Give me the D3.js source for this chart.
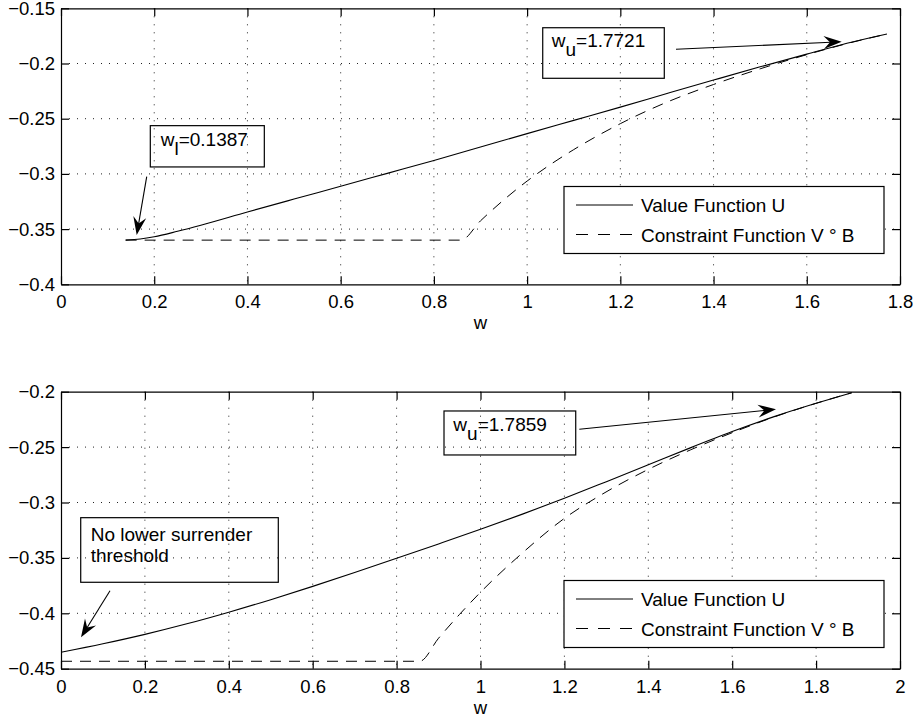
<!DOCTYPE html>
<html>
<head>
<meta charset="utf-8">
<script src="https://cdn.jsdelivr.net/npm/d3@7"></script>
<style>
  body { margin: 0; background: #fff; }
  svg text { font-family: "Liberation Sans", Arial, Helvetica, sans-serif; }
</style>
</head>
<body>
<div id="chart"></div>
<script>
// values

// top panel
let topXTicks = [0, 0.2, 0.4, 0.6, 0.8, 1, 1.2, 1.4, 1.6, 1.8];
let topYTicks = [-0.4, -0.35, -0.3, -0.25, -0.2, -0.15];
let topUW = [0.1387, 0.17, 0.2, 0.25, 0.3, 0.4, 0.5, 0.6, 0.7, 0.8, 0.9, 1.0, 1.1, 1.2, 1.3, 1.4, 1.5, 1.6, 1.7, 1.7721];
let topU = [-0.3600, -0.3590, -0.3570, -0.3520, -0.3465, -0.3345, -0.3228, -0.3112, -0.2995, -0.2878, -0.2757, -0.2635, -0.2515, -0.2395, -0.2272, -0.2150, -0.2030, -0.1915, -0.1803, -0.1733];
let topConW = [0.1387, 0.858, 0.9, 0.95, 1.0, 1.05, 1.1, 1.2, 1.3, 1.4, 1.5, 1.6, 1.7, 1.7721];
let topCon = [-0.3600, -0.3600, -0.3425, -0.3235, -0.3065, -0.2915, -0.2780, -0.2545, -0.2350, -0.2190, -0.2048, -0.1920, -0.1805, -0.1733];

// bottom panel
let botXTicks = [0, 0.2, 0.4, 0.6, 0.8, 1, 1.2, 1.4, 1.6, 1.8, 2];
let botYTicks = [-0.45, -0.4, -0.35, -0.3, -0.25, -0.2];
let botUW = [0, 0.1, 0.2, 0.3, 0.4, 0.5, 0.6, 0.7, 0.8, 0.9, 1.0, 1.1, 1.2, 1.3, 1.4, 1.5, 1.6, 1.7, 1.8, 1.885];
let botU = [-0.4352, -0.4275, -0.4190, -0.4095, -0.3990, -0.3877, -0.3757, -0.3632, -0.3504, -0.3374, -0.3242, -0.3105, -0.2962, -0.2812, -0.2660, -0.2507, -0.2360, -0.2225, -0.2105, -0.2009];
let botConW = [0, 0.5, 0.855, 0.9, 0.95, 1.0, 1.1, 1.2, 1.28, 1.4, 1.5, 1.6, 1.7, 1.8, 1.885];
let botCon = [-0.4433, -0.4433, -0.4433, -0.4225, -0.4010, -0.3810, -0.3455, -0.3143, -0.2948, -0.2701, -0.2526, -0.2370, -0.2228, -0.2105, -0.2009];

let legendLabels = ["Value Function U", "Constraint Function V \u00B0 B"];
let xTitle = "w";

let svgWidth = 913;
let svgHeight = 719;
let fontSize = 18.5;
let dash = "11,8";

var svg = d3.select("#chart")
    .append("svg")
    .attr("width", svgWidth)
    .attr("height", svgHeight);

// minus sign like the original
var fmt = d => (d < 0 ? "\u2212" : "") + String(Math.abs(d));

function drawPanel(p) {
    var x = d3.scaleLinear().domain(p.xDomain).range([61, 900]);
    var y = d3.scaleLinear().domain(p.yDomain).range([p.bottom, p.top]);

    var g = svg.append("g");

    // dotted grid
    g.selectAll(".gx").data(p.xTicks.slice(1, -1)).enter().append("line")
        .attr("x1", d => x(d)).attr("x2", d => x(d))
        .attr("y1", p.top).attr("y2", p.bottom)
        .attr("stroke", "#222").attr("stroke-width", 1)
        .attr("stroke-dasharray", "1,7");
    g.selectAll(".gy").data(p.yTicks.slice(1, -1)).enter().append("line")
        .attr("y1", d => y(d)).attr("y2", d => y(d))
        .attr("x1", 61).attr("x2", 900)
        .attr("stroke", "#222").attr("stroke-width", 1)
        .attr("stroke-dasharray", "1,7");

    // curves
    var line = d3.line()
        .x(d => x(d[0]))
        .y(d => y(d[1]))
        .curve(d3.curveMonotoneX);

    g.append("path")
        .datum(d3.zip(p.conW, p.con))
        .attr("d", line)
        .attr("fill", "none")
        .attr("stroke", "#000")
        .attr("stroke-width", 1)
        .attr("stroke-dasharray", dash);

    g.append("path")
        .datum(d3.zip(p.uW, p.u))
        .attr("d", line)
        .attr("fill", "none")
        .attr("stroke", "#000")
        .attr("stroke-width", 1.1);

    // axes, ticks pointing inward on all four sides
    var bottomAxis = d3.axisBottom(x).tickValues(p.xTicks).tickFormat(fmt)
        .tickSizeInner(-8).tickSizeOuter(0).tickPadding(11);
    var leftAxis = d3.axisLeft(y).tickValues(p.yTicks).tickFormat(fmt)
        .tickSizeInner(-8).tickSizeOuter(0).tickPadding(6);
    var topAxis = d3.axisTop(x).tickValues(p.xTicks).tickFormat("")
        .tickSizeInner(-8).tickSizeOuter(0);
    var rightAxis = d3.axisRight(y).tickValues(p.yTicks).tickFormat("")
        .tickSizeInner(-8).tickSizeOuter(0);

    var axes = [
        g.append("g").attr("transform", `translate(0, ${p.bottom})`).call(bottomAxis),
        g.append("g").attr("transform", "translate(61, 0)").call(leftAxis),
        g.append("g").attr("transform", `translate(0, ${p.top})`).call(topAxis),
        g.append("g").attr("transform", "translate(900, 0)").call(rightAxis)
    ];
    axes.forEach(a => {
        a.selectAll("path, line").attr("stroke", "#000").attr("stroke-width", 1.2);
        a.selectAll("text").attr("fill", "#000").attr("font-size", fontSize + "px");
    });

    // x axis title
    g.append("text")
        .attr("x", (61 + 900) / 2)
        .attr("y", p.bottom + 45)
        .attr("text-anchor", "middle")
        .attr("font-size", fontSize + "px")
        .text(xTitle);

    // legend
    var lg = g.append("g").attr("transform", `translate(${p.legend[0]}, ${p.legend[1]})`);
    lg.append("rect")
        .attr("width", 320).attr("height", 67)
        .attr("fill", "#fff").attr("stroke", "#000").attr("stroke-width", 1.2);
    legendLabels.forEach((lab, i) => {
        var ly = 18.5 + i * 29.5;
        lg.append("line")
            .attr("x1", 12).attr("x2", 69)
            .attr("y1", ly).attr("y2", ly)
            .attr("stroke", "#000").attr("stroke-width", 1)
            .attr("stroke-dasharray", i === 1 ? "12,10" : null);
        lg.append("text")
            .attr("x", 77).attr("y", ly + 7)
            .attr("font-size", "19px")
            .text(lab);
    });

    // annotations (data coordinates)
    p.notes.forEach(n => {
        g.append("rect")
            .attr("x", x(n.box[0])).attr("y", y(n.box[3]))
            .attr("width", x(n.box[1]) - x(n.box[0]))
            .attr("height", y(n.box[2]) - y(n.box[3]))
            .attr("fill", "none").attr("stroke", "#000").attr("stroke-width", 1.2);

        n.lines.forEach((ln, i) => {
            var t = g.append("text")
                .attr("x", x(n.text[0]))
                .attr("y", y(n.text[1]) + i * 21)
                .attr("font-size", "19px");
            if (ln.sub) {
                t.append("tspan").text(ln.base);
                t.append("tspan").attr("dy", 9).text(ln.sub);
                t.append("tspan").attr("dy", -9).text(ln.rest);
            } else {
                t.text(ln.base);
            }
        });

        var x1 = x(n.arrow[0]), y1 = y(n.arrow[1]);
        var x2 = x(n.arrow[2]), y2 = y(n.arrow[3]);
        var ang = Math.atan2(y2 - y1, x2 - x1);
        var L = 18, W = 6.5;
        g.append("line")
            .attr("x1", x1).attr("y1", y1)
            .attr("x2", x2 - Math.cos(ang) * L * 0.6)
            .attr("y2", y2 - Math.sin(ang) * L * 0.6)
            .attr("stroke", "#000").attr("stroke-width", 1.1);
        var head = [[0, 0], [-L, -W], [-L * 0.65, 0], [-L, W]];
        g.append("path")
            .attr("d", "M" + head.map(q => q.join(",")).join("L") + "Z")
            .attr("transform", `translate(${x2}, ${y2}) rotate(${ang * 180 / Math.PI})`)
            .attr("fill", "#000");
    });
}

drawPanel({
    xDomain: [0, 1.8], yDomain: [-0.4, -0.15],
    top: 8.3, bottom: 284.3,
    xTicks: topXTicks, yTicks: topYTicks,
    uW: topUW, u: topU, conW: topConW, con: topCon,
    legend: [564, 186.5],
    notes: [
        { box: [0.1916, 0.4362, -0.2937, -0.2563], text: [0.2139, -0.2747],
          lines: [{ base: "w", sub: "l", rest: "=0.1387" }],
          arrow: [0.1839, -0.3025, 0.1624, -0.3553] },
        { box: [1.0335, 1.2943, -0.2134, -0.1676], text: [1.0528, -0.1848],
          lines: [{ base: "w", sub: "u", rest: "=1.7721" }],
          arrow: [1.3194, -0.1871, 1.6749, -0.1803] }
    ]
});

drawPanel({
    xDomain: [0, 2], yDomain: [-0.45, -0.2],
    top: 391.7, bottom: 668.7,
    xTicks: botXTicks, yTicks: botYTicks,
    uW: botUW, u: botU, conW: botConW, con: botCon,
    legend: [564, 580.5],
    notes: [
        { box: [0.047, 0.518, -0.372, -0.3137], text: [0.0708, -0.3345],
          lines: [{ base: "No lower surrender" }, { base: "threshold" }],
          arrow: [0.1168, -0.3796, 0.0477, -0.4217] },
        { box: [0.913, 1.227, -0.2571, -0.2174], text: [0.9352, -0.2355],
          lines: [{ base: "w", sub: "u", rest: "=1.7859" }],
          arrow: [1.2355, -0.2339, 1.7044, -0.2159] }
    ]
});
</script>
</body>
</html>
